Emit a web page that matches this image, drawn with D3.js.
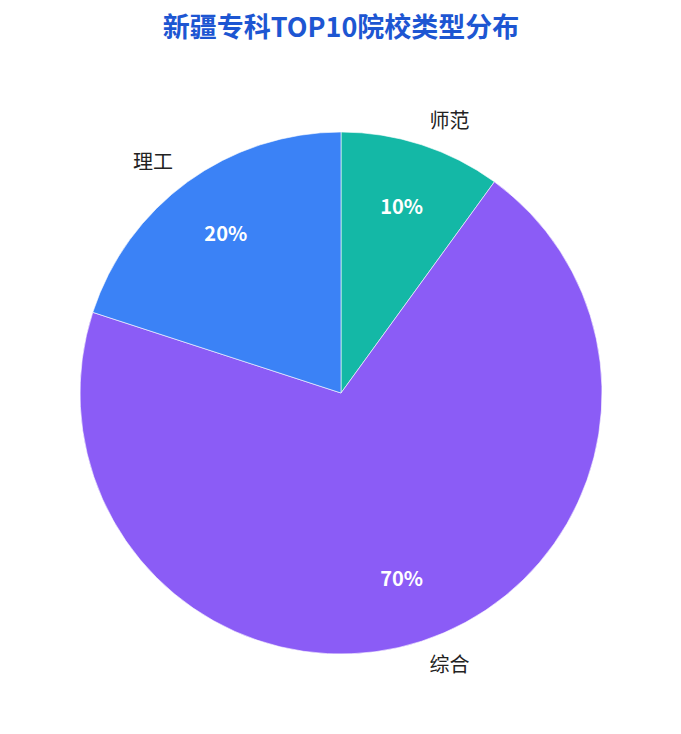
<!DOCTYPE html>
<html>
<head>
<meta charset="utf-8">
<script src="https://cdn.jsdelivr.net/npm/d3@7"></script>
<style>
  body { margin: 0; background: #fff; }
  svg { display: block; font-family: "Noto Sans CJK SC", "Noto Sans", sans-serif; }
</style>
</head>
<body>
<svg id="chart" width="681" height="734"></svg>
<script>
// data
var categories = ["师范", "综合", "理工"]
var values = [10, 70, 20]
var colors = ["#14b8a6", "#8b5cf6", "#3b82f6"]

var svg = d3.select("#chart")
var cx = 341, cy = 393, radius = 261

svg.append("text")
  .attr("x", 341)
  .attr("y", 28)
  .attr("dy", "0.35em")
  .attr("text-anchor", "middle")
  .attr("font-size", "27px")
  .attr("font-weight", "bold")
  .attr("fill", "#1d56d2")
  .text("新疆专科TOP10院校类型分布")

var data = categories.map((c, i) => ({name: c, value: values[i], color: colors[i]}))
var total = d3.sum(values)

var pie = d3.pie().sort(null).value(d => d.value)
var arc = d3.arc().innerRadius(0).outerRadius(radius)
var inner = d3.arc().innerRadius(196).outerRadius(196)
var outer = d3.arc().innerRadius(286).outerRadius(286)

var g = svg.append("g").attr("transform", "translate(" + cx + "," + cy + ")")
var arcs = pie(data)

g.selectAll("path.slice")
  .data(arcs)
  .enter().append("path")
  .attr("class", "slice")
  .attr("d", arc)
  .attr("fill", d => d.data.color)
  .attr("stroke", "#fff")
  .attr("stroke-width", 0.6)

g.selectAll("text.pct")
  .data(arcs)
  .enter().append("text")
  .attr("class", "pct")
  .attr("transform", d => "translate(" + inner.centroid(d) + ")")
  .attr("text-anchor", "middle")
  .attr("dy", "0.35em")
  .attr("font-size", "20px")
  .attr("font-weight", "bold")
  .attr("fill", "#fff")
  .text(d => Math.round(d.data.value / total * 100) + "%")

g.selectAll("text.name")
  .data(arcs)
  .enter().append("text")
  .attr("class", "name")
  .attr("transform", d => "translate(" + outer.centroid(d) + ")")
  .attr("text-anchor", d => (d.startAngle + d.endAngle) / 2 < Math.PI ? "start" : "end")
  .attr("dy", "0.35em")
  .attr("font-size", "20px")
  .attr("fill", "#222")
  .text(d => d.data.name)
</script>
</body>
</html>
